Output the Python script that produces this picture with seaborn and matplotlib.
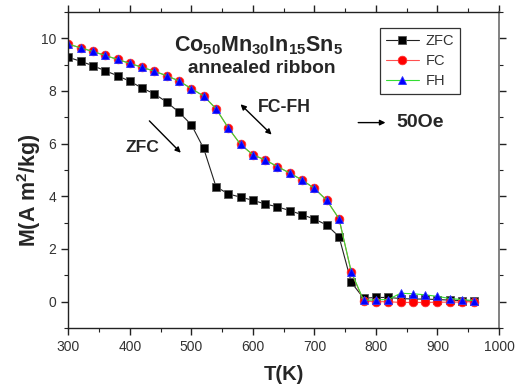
import numpy as np
import pandas as pd
import matplotlib
matplotlib.use("Agg")
import matplotlib.pyplot as plt
import seaborn as sns
from matplotlib.ticker import MultipleLocator

# ---- data ----
T = [300, 320, 340, 360, 380, 400, 420, 440, 460, 480, 500, 520, 540, 560, 580,
     600, 620, 640, 660, 680, 700, 720, 740, 760, 780, 800, 820, 840, 860, 880,
     900, 920, 940, 960]
zfc = [9.28, 9.13, 8.96, 8.77, 8.58, 8.37, 8.11, 7.89, 7.58, 7.19, 6.72, 5.82, 4.37,
       4.09, 3.97, 3.85, 3.71, 3.60, 3.46, 3.30, 3.14, 2.91, 2.47, 0.73, 0.13, 0.16,
       0.16, 0.12, 0.10, 0.10, 0.08, 0.06, 0.04, 0.02]
fc = [9.78, 9.64, 9.50, 9.35, 9.20, 9.05, 8.90, 8.75, 8.58, 8.38, 8.09, 7.81, 7.33,
      6.60, 5.97, 5.58, 5.38, 5.13, 4.88, 4.62, 4.30, 3.85, 3.15, 1.11, 0.03, 0.0,
      0.0, -0.03, -0.03, -0.03, -0.02, -0.02, -0.01, 0.0]
fh = [9.78, 9.64, 9.50, 9.35, 9.20, 9.05, 8.90, 8.75, 8.58, 8.38, 8.09, 7.81, 7.33,
      6.60, 5.97, 5.58, 5.38, 5.13, 4.88, 4.62, 4.30, 3.85, 3.15, 1.13, 0.05, 0.07,
      0.08, 0.32, 0.30, 0.26, 0.20, 0.12, 0.08, 0.04]
series_names = ["ZFC", "FC", "FH"]
x_ticks = [300, 400, 500, 600, 700, 800, 900, 1000]
y_ticks = [0, 2, 4, 6, 8, 10]

sns.set_style("ticks")
plt.rcParams["font.family"] = ["Liberation Sans", "DejaVu Sans"]
plt.rcParams["mathtext.fontset"] = "custom"
plt.rcParams["mathtext.rm"] = "Liberation Sans"
plt.rcParams["mathtext.bf"] = "Liberation Sans:bold"
plt.rcParams["mathtext.it"] = "Liberation Sans:italic"

fig = plt.figure(figsize=(5.22, 3.85), dpi=100)
ax = fig.add_axes([68.3 / 522, 1 - 328 / 385, (499 - 68.3) / 522, (328 - 12) / 385])

styles = [
    dict(y=zfc, color="#222222", marker="s", mfc="black", mec="#555555", ms=6.0),
    dict(y=fc, color="#ff5050", marker="o", mfc="#ff0000", mec="#ff3030", ms=6.2),
    dict(y=fh, color="#33dd33", marker="^", mfc="#0000ff", mec="#3030ff", ms=6.2),
]
for name, st in zip(series_names, styles):
    sns.lineplot(x=T, y=st["y"], ax=ax, color=st["color"], linewidth=0.8,
                 marker=st["marker"], markersize=st["ms"],
                 markerfacecolor=st["mfc"], markeredgecolor=st["mec"],
                 markeredgewidth=0.6, label=name, sort=False, estimator=None)

ax.set_xlim(300, 1000)
ax.set_ylim(-1, 11)
ax.set_xticks(x_ticks)
ax.set_yticks(y_ticks)
ax.xaxis.set_minor_locator(MultipleLocator(50))
ax.yaxis.set_minor_locator(MultipleLocator(1))
ax.tick_params(which="both", direction="out", top=True, right=True,
               labeltop=False, labelright=False, colors="#222222",
               labelcolor="#333333", labelsize=10)
ax.tick_params(which="major", length=5, width=1.0)
ax.tick_params(which="minor", length=3, width=0.8)
for side in ["left", "bottom", "top"]:
    ax.spines[side].set_color("#222222")
    ax.spines[side].set_linewidth(1.0)
ax.spines["right"].set_color("#777777")
ax.spines["right"].set_linewidth(1.3)

ax.set_xlabel("T(K)", fontsize=14.5, fontweight="bold", labelpad=8)
ax.set_ylabel(r"M(A m$^{\mathbf{2}}$/kg)", fontsize=15.5, fontweight="bold")
ax.yaxis.set_label_coords(-(68.3 - 43) / 430.7, (328 - 190) / 316)

leg = ax.legend(loc="upper left", bbox_to_anchor=((380 - 68.3) / 430.7, (328 - 28.3) / 316),
                borderaxespad=0, fontsize=10.5, frameon=True, fancybox=False,
                edgecolor="black", handlelength=2.3, handletextpad=0.45,
                borderpad=0.38, labelspacing=0.42)
leg.get_frame().set_linewidth(0.9)
for t in leg.get_texts():
    t.set_color("#333333")

ax.text(609, 9.72, r"Co$_{\mathbf{50}}$Mn$_{\mathbf{30}}$In$_{\mathbf{15}}$Sn$_{\mathbf{5}}$",
        fontsize=15.5, fontweight="bold", ha="center", va="center")
ax.text(614, 8.85, "annealed ribbon", fontsize=13.8, fontweight="bold", ha="center", va="center")
ax.text(651, 7.37, "FC-FH", fontsize=12.7, fontweight="bold", ha="center", va="center")
ax.text(421, 5.85, "ZFC", fontsize=12.6, fontweight="bold", ha="center", va="center")
ax.text(834, 6.8, "50Oe", fontsize=14, fontweight="bold", ha="left", va="center")

arrow = dict(arrowstyle="-|>", color="black", lw=1.0, mutation_scale=8)
ax.annotate("", xy=(486, 5.58), xytext=(428.6, 6.94), arrowprops=arrow)
ax.annotate("", xy=(820, 6.8), xytext=(766.7, 6.8), arrowprops=arrow)
ax.annotate("", xy=(633.7, 6.27), xytext=(576.7, 7.57),
            arrowprops=dict(arrowstyle="<|-|>", color="black", lw=1.0, mutation_scale=8))

fig.savefig("out.png", dpi=100)
